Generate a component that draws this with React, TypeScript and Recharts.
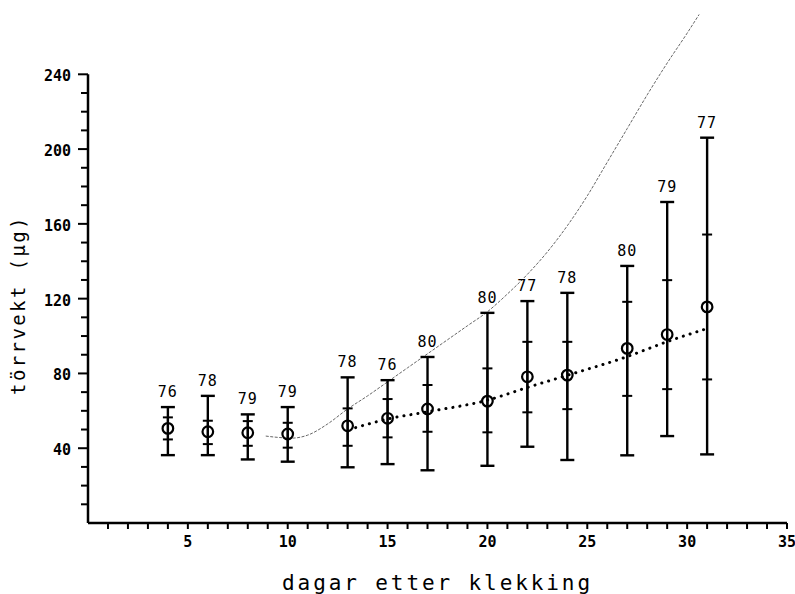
import {
  ComposedChart,
  ErrorBar,
  Label,
  Line,
  ReferenceLine,
  Scatter,
  XAxis,
  YAxis,
} from "recharts";

// days after hatching, one entry per sampled group
const dayX = [4, 6, 8, 10, 13, 15, 17, 20, 22, 24, 27, 29, 31];
const meanW = [50.6, 48.8, 48.3, 47.6, 52, 56, 61, 65.2, 78.2, 79.1, 93.4, 100.8, 115.6];
const sdHigh = [56.5, 54.7, 54.5, 53.6, 61.3, 66.3, 73.8, 82.7, 96.9, 96.9, 118.3, 129.9, 154.3];
const sdLow = [44.7, 42.2, 41.3, 40.3, 41.3, 45.8, 48.8, 48.5, 59.2, 60.9, 68, 71.6, 76.8];
const maxW = [62, 68, 58.1, 62, 77.9, 76.4, 88.8, 112.4, 118.7, 123.1, 137.5, 171.7, 206.1];
const minW = [36.3, 36.3, 34, 32.8, 29.8, 31.5, 28.2, 30.6, 40.8, 33.7, 36.2, 46.5, 36.7];
const countN = [76, 78, 79, 79, 78, 76, 80, 80, 77, 78, 80, 79, 77];

// dotted regression through the means
const fitX = [13.4, 15, 17, 20, 22, 24, 27, 29, 31];
const fitY = [51, 55.6, 59.5, 65.7, 72.5, 79, 89, 97, 104];

// thin reference curve
const refX = [8.9, 9.5, 10.2, 11, 12, 13, 14, 15, 16, 17, 18, 19, 20, 21, 22, 23, 24, 25, 26, 27, 28, 29, 30, 30.6];
const refY = [46.5, 45.8, 45.4, 47, 53, 61, 68, 75.5, 83, 90.5, 98, 105.5, 113, 122.5, 133, 145, 159, 175, 193, 211, 229, 246, 262, 272];

const xTicks = Array.from({ length: 35 }, (_, i) => i + 1);
const yTicks = Array.from({ length: 24 }, (_, i) => (i + 1) * 10);

const FONT = "'DejaVu Sans Mono', monospace";

const rows = dayX.map((x, i) => ({
  x,
  mean: meanW[i],
  max: maxW[i],
  n: countN[i],
  outer: [meanW[i] - minW[i], maxW[i] - meanW[i]],
  inner: [meanW[i] - sdLow[i], sdHigh[i] - meanW[i]],
}));
const fitRows = fitX.map((x, i) => ({ x, y: fitY[i] }));
const refRows = refX.map((x, i) => ({ x, y: refY[i] }));

function YTick({ x, y, payload }: any) {
  const major = payload.value % 40 === 0;
  return (
    <g>
      <line x1={x - (major ? 10 : 7)} x2={x} y1={y} y2={y} stroke="#000" strokeWidth={2} />
      {major && (
        <text x={x - 17} y={y} dy={7} textAnchor="end" fontFamily={FONT} fontWeight="bold" fontSize={15} fill="#000">
          {payload.value}
        </text>
      )}
    </g>
  );
}

function XTick({ x, y, payload }: any) {
  const major = payload.value % 5 === 0;
  return (
    <g>
      <line x1={x} x2={x} y1={y} y2={y + 6} stroke="#000" strokeWidth={2} />
      {major && (
        <text x={x} y={y + 24} textAnchor="middle" fontFamily={FONT} fontWeight="bold" fontSize={15} fill="#000">
          {payload.value}
        </text>
      )}
    </g>
  );
}

const MeanDot = ({ cx, cy }: any) => (
  <circle cx={cx} cy={cy} r={5.3} fill="none" stroke="#000" strokeWidth={2.2} />
);

const CountLabel = ({ cx, cy, payload }: any) => (
  <text x={cx} y={cy - 10} textAnchor="middle" fontFamily={FONT} fontSize={15} letterSpacing={1} fill="#000">
    {payload.n}
  </text>
);

export default function App() {
  return (
    <div style={{ position: "absolute", left: 0, top: 0, background: "#fff" }}>
      <ComposedChart width={795} height={594} margin={{ top: 7, right: 8, bottom: 0, left: 0 }}>
        <XAxis
          dataKey="x"
          type="number"
          domain={[0, 35]}
          ticks={xTicks}
          interval={0}
          height={71}
          tickSize={0}
          tickMargin={0}
          tick={<XTick />}
          axisLine={{ stroke: "#000", strokeWidth: 2.5 }}
        >
          <Label
            value="dagar etter klekking"
            position="insideBottom"
            offset={4}
            style={{ fontFamily: FONT, fontSize: 21, letterSpacing: 2.9, fill: "#000" }}
          />
        </XAxis>
        <YAxis
          type="number"
          domain={[0, 276]}
          ticks={yTicks}
          interval={0}
          width={88}
          tickSize={0}
          tickMargin={0}
          tick={<YTick />}
          axisLine={false}
        >
          <Label
            content={() => (
              <text
                x={25}
                y={305}
                transform="rotate(-90, 25, 305)"
                textAnchor="middle"
                fontFamily={FONT}
                fontSize={19}
                letterSpacing={2.4}
                fill="#000"
              >
                törrvekt (µg)
              </text>
            )}
          />
        </YAxis>
        <ReferenceLine
          segment={[{ x: 0, y: 0 }, { x: 0, y: 240 }]}
          stroke="#000"
          strokeWidth={2.5}
        />
        <Line
          data={refRows}
          dataKey="y"
          type="monotone"
          stroke="#555"
          strokeWidth={0.9}
          strokeDasharray="3 1.5"
          dot={false}
          isAnimationActive={false}
        />
        <Line
          data={fitRows}
          dataKey="y"
          type="monotone"
          stroke="#000"
          strokeWidth={3}
          strokeLinecap="round"
          strokeDasharray="0.1 7"
          dot={false}
          isAnimationActive={false}
        />
        <Scatter data={rows} dataKey="mean" shape={<MeanDot />} isAnimationActive={false}>
          <ErrorBar dataKey="outer" direction="y" width={7} stroke="#000" strokeWidth={2.4} isAnimationActive={false} />
          <ErrorBar dataKey="inner" direction="y" width={5} stroke="#000" strokeWidth={2} isAnimationActive={false} />
        </Scatter>
        <Scatter data={rows} dataKey="max" shape={<CountLabel />} isAnimationActive={false} />
      </ComposedChart>
    </div>
  );
}
